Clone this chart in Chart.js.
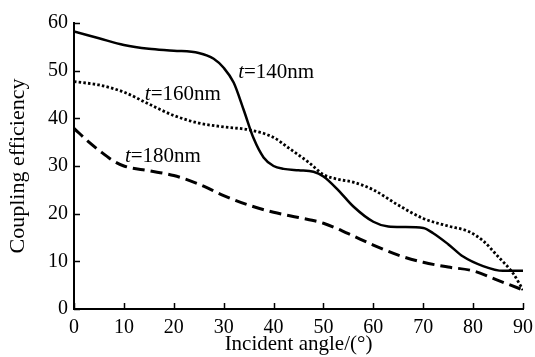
<!DOCTYPE html>
<html>
<head>
<meta charset="utf-8">
<script src="https://cdn.jsdelivr.net/npm/chart.js@4/dist/chart.umd.min.js"></script>
<style>
    html, body { margin: 0; padding: 0; background: #fff; }
    #wrap { width: 535px; height: 357px; position: relative; }
</style>
</head>
<body>
<div id="wrap"><canvas id="coupling"></canvas></div>
<script>
// Coupling efficiency vs incident angle, three film thicknesses
const angles140 = [0, 5, 10, 15, 20, 25, 28, 30, 32, 34, 36, 38, 40, 42, 45, 48, 50, 53, 56, 60, 63, 66, 70, 72, 75, 78, 82, 86, 90];
const eff140 = [58.2, 56.8, 55.4, 54.6, 54.2, 53.7, 52.5, 50.6, 47.5, 41.8, 35.8, 31.8, 30.0, 29.4, 29.1, 28.8, 27.8, 24.9, 21.5, 18.3, 17.3, 17.2, 17.0, 15.9, 13.6, 11.0, 9.0, 8.0, 8.0];

const angles160 = [0, 5, 10, 15, 20, 25, 30, 35, 40, 43, 47, 50, 53, 56, 60, 65, 70, 75, 79, 82, 85, 88, 90];
const eff160 = [47.7, 47.0, 45.5, 43.0, 40.6, 39.0, 38.2, 37.6, 36.0, 33.8, 30.8, 28.2, 27.2, 26.6, 25.0, 21.8, 19.0, 17.4, 16.3, 14.3, 11.0, 7.5, 4.0];

const angles180 = [0, 3, 5, 8, 10, 15, 20, 25, 30, 35, 40, 45, 50, 55, 60, 65, 70, 75, 80, 85, 90];
const eff180 = [37.9, 35.0, 33.3, 31.0, 30.0, 29.0, 28.0, 26.2, 23.8, 21.8, 20.3, 19.2, 18.0, 15.8, 13.4, 11.3, 9.8, 8.8, 8.0, 6.0, 4.0];

const xTicks = [0, 10, 20, 30, 40, 50, 60, 70, 80, 90];
const yTicks = [0, 10, 20, 30, 40, 50, 60];

// curve labels, placed in data coordinates (left edge, vertical middle)
const curveLabels = [
    { text: '140nm', x: 32.9, y: 49.7 },
    { text: '160nm', x: 14.2, y: 44.9 },
    { text: '180nm', x: 10.2, y: 32.1 }
];

const serif = '"Liberation Serif", "Times New Roman", serif';

function pairs(xs, ys) {
    return xs.map((x, i) => ({ x: x, y: ys[i] }));
}

// tick marks pointing into the plot, plus the t=...nm labels
const decorations = {
    id: 'decorations',
    afterDraw(chart) {
        const ctx = chart.ctx;
        const xs = chart.scales.x;
        const ys = chart.scales.y;
        const area = chart.chartArea;
        ctx.save();
        ctx.strokeStyle = '#000';
        ctx.lineWidth = 1.5;
        ctx.beginPath();
        xTicks.forEach(v => {
            const px = Math.round(xs.getPixelForValue(v)) + 0.5;
            ctx.moveTo(px, area.bottom);
            ctx.lineTo(px, area.bottom - 6);
        });
        yTicks.forEach(v => {
            const py = Math.round(ys.getPixelForValue(v)) + 0.5;
            ctx.moveTo(area.left, py);
            ctx.lineTo(area.left + 6, py);
        });
        ctx.stroke();

        ctx.fillStyle = '#000';
        ctx.textBaseline = 'middle';
        ctx.textAlign = 'left';
        curveLabels.forEach(lab => {
            let px = xs.getPixelForValue(lab.x);
            const py = ys.getPixelForValue(lab.y);
            ctx.font = 'italic 21px ' + serif;
            ctx.fillText('t', px, py);
            px += ctx.measureText('t').width;
            ctx.font = '21px ' + serif;
            ctx.fillText('=' + lab.text, px, py);
        });
        ctx.restore();
    }
};

const ctx = document.getElementById('coupling').getContext('2d');
const chart = new Chart(ctx, {
    type: 'line',
    data: {
        datasets: [
            {
                label: 't=140nm',
                data: pairs(angles140, eff140),
                borderColor: '#000',
                borderWidth: 2.5,
                pointRadius: 0,
                cubicInterpolationMode: 'monotone',
                fill: false
            },
            {
                label: 't=160nm',
                data: pairs(angles160, eff160),
                borderColor: '#000',
                borderWidth: 2.8,
                borderDash: [2.5, 2.2],
                pointRadius: 0,
                cubicInterpolationMode: 'monotone',
                fill: false
            },
            {
                label: 't=180nm',
                data: pairs(angles180, eff180),
                borderColor: '#000',
                borderWidth: 3,
                borderDash: [12, 6],
                pointRadius: 0,
                cubicInterpolationMode: 'monotone',
                fill: false
            }
        ]
    },
    options: {
        responsive: true,
        maintainAspectRatio: false,
        animation: false,
        layout: {
            padding: { top: 23, right: 12, left: 0, bottom: 0 }
        },
        plugins: {
            legend: { display: false },
            tooltip: { enabled: false }
        },
        scales: {
            x: {
                type: 'linear',
                min: 0,
                max: 90,
                afterBuildTicks: scale => { scale.ticks = xTicks.map(v => ({ value: v })); },
                afterFit: scale => {
                    scale.height = 48;
                    scale.paddingLeft = 0;
                    scale.paddingRight = 0;
                },
                grid: { display: true, drawOnChartArea: false, drawTicks: false },
                border: { display: true, color: '#000', width: 2 },
                ticks: {
                    color: '#000',
                    padding: 7,
                    font: { family: serif, size: 20 }
                },
                title: {
                    display: true,
                    text: 'Incident angle/(°)',
                    color: '#000',
                    padding: { top: 0, bottom: 0 },
                    font: { family: serif, size: 21 }
                }
            },
            y: {
                min: 0,
                max: 60,
                afterBuildTicks: scale => { scale.ticks = yTicks.map(v => ({ value: v })); },
                afterFit: scale => {
                    scale.width = 74;
                    scale.paddingTop = 0;
                    scale.paddingBottom = 0;
                },
                grid: { display: true, drawOnChartArea: false, drawTicks: false },
                border: { display: true, color: '#000', width: 2 },
                ticks: {
                    color: '#000',
                    padding: 6,
                    font: { family: serif, size: 20 }
                },
                title: {
                    display: true,
                    text: 'Coupling efficiency',
                    color: '#000',
                    padding: { top: 5, bottom: 0 },
                    font: { family: serif, size: 22 }
                }
            }
        }
    },
    plugins: [decorations]
});
</script>
</body>
</html>
